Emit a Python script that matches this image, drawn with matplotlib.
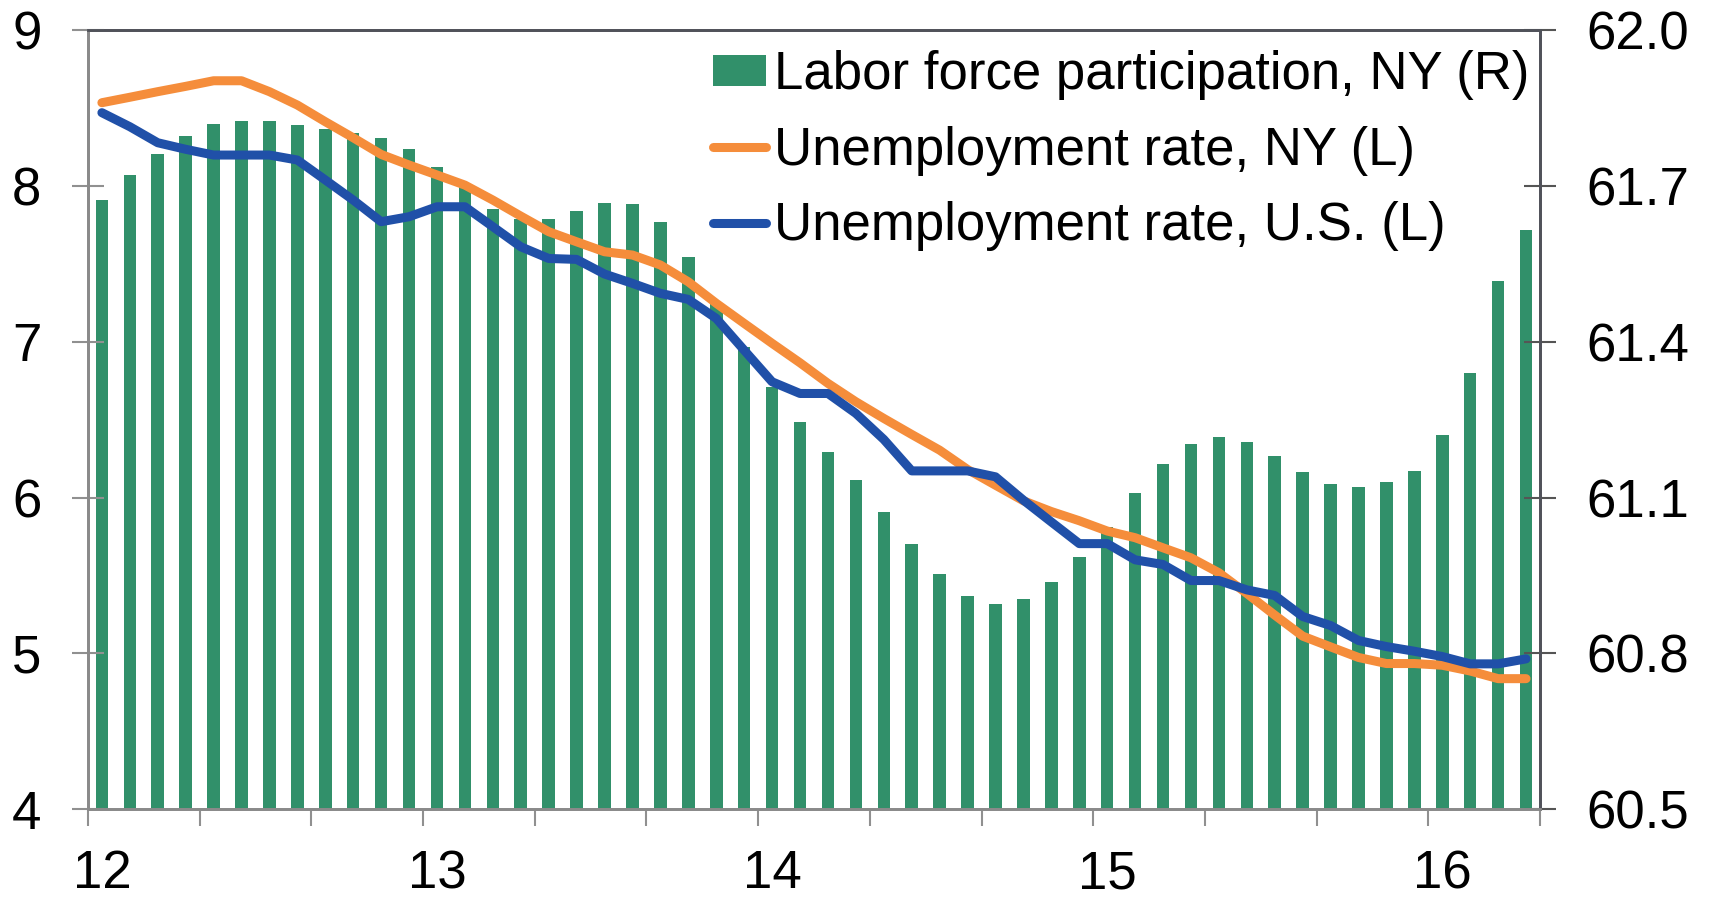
import matplotlib
matplotlib.use('Agg')
import matplotlib.pyplot as plt
from matplotlib.patches import Patch
from matplotlib.lines import Line2D
import numpy as np
import pandas as pd

plt.rcParams['font.family'] = ['Liberation Sans', 'DejaVu Sans']

# monthly data, Jan 2012 - Apr 2016
months = pd.date_range('2012-01-01', '2016-04-01', freq='MS')

lfp_ny = [61.673, 61.721, 61.762, 61.797, 61.819, 61.825, 61.825, 61.817, 61.810, 61.803,
          61.793, 61.772, 61.737, 61.700, 61.656, 61.637, 61.637, 61.652, 61.667, 61.665,
          61.631, 61.564, 61.475, 61.389, 61.312, 61.245, 61.188, 61.133, 61.073, 61.010,
          60.952, 60.910, 60.895, 60.905, 60.938, 60.986, 61.044, 61.108, 61.165, 61.204,
          61.217, 61.206, 61.180, 61.150, 61.127, 61.121, 61.129, 61.151, 61.220, 61.340,
          61.518, 61.616]

unemp_ny = [8.535, 8.570, 8.606, 8.640, 8.676, 8.676, 8.606, 8.520, 8.413, 8.310,
            8.203, 8.135, 8.071, 8.006, 7.910, 7.807, 7.707, 7.642, 7.578, 7.557,
            7.493, 7.385, 7.247, 7.118, 6.990, 6.865, 6.733, 6.615, 6.508, 6.405,
            6.304, 6.180, 6.079, 5.979, 5.910, 5.851, 5.785, 5.742, 5.677, 5.613,
            5.517, 5.384, 5.245, 5.110, 5.041, 4.973, 4.934, 4.934, 4.923, 4.886,
            4.837, 4.837]

unemp_us = [8.471, 8.381, 8.278, 8.236, 8.199, 8.199, 8.199, 8.167, 8.039, 7.910,
            7.771, 7.803, 7.867, 7.867, 7.739, 7.610, 7.535, 7.529, 7.435, 7.375,
            7.311, 7.272, 7.150, 6.946, 6.743, 6.668, 6.668, 6.540, 6.373, 6.171,
            6.171, 6.171, 6.133, 5.983, 5.843, 5.704, 5.704, 5.600, 5.570, 5.467,
            5.467, 5.407, 5.371, 5.236, 5.178, 5.082, 5.043, 5.013, 4.979, 4.932,
            4.932, 4.964]

labels = ['Labor force participation, NY (R)', 'Unemployment rate, NY (L)',
          'Unemployment rate, U.S. (L)']

green = '#31906A'
orange = '#F58D3B'
blue = '#2050A8'

x = np.arange(len(months))

fig = plt.figure(figsize=(17.14, 8.99), dpi=100)
ax = fig.add_axes([0.0513, 0.1001, 0.8472, 0.8662])
ax2 = ax.twinx()

# bars on right scale, behind the lines
ax2.bar(x, lfp_ny, width=0.45, color=green, bottom=0)
ax2.set_ylim(60.5, 62.0)
rticks = np.arange(60.5, 62.01, 0.3)
ax2.set_yticks(rticks)
ax2.set_yticklabels(['%.1f' % v for v in rticks])

ax.plot(x, unemp_ny, color=orange, lw=6.5, solid_capstyle='round', solid_joinstyle='round')
ax.plot(x, unemp_us, color=blue, lw=6.5, solid_capstyle='round', solid_joinstyle='round')
ax.set_ylim(4, 9)
ax.set_yticks(range(4, 10))
ax.set_xlim(-0.5, len(months) - 0.5)

ax.set_zorder(ax2.get_zorder() + 1)
ax.patch.set_visible(False)

# tick marks between months every 4 months, labels on January
ax.set_xticks(np.arange(-0.5, len(months), 4))
ax.set_xticklabels([])
jan = [i for i, m in enumerate(months) if m.month == 1]
ax.set_xticks(jan, minor=True)
ax.set_xticklabels([str(months[i].year)[2:] for i in jan], minor=True)
ax.tick_params(axis='x', which='major', direction='out', length=12, width=1.5, color='#909090')
ax.tick_params(axis='x', which='minor', length=0, pad=29, labelsize=38)
ax.tick_params(axis='y', direction='inout', length=23, width=1.5, color='#909090',
               labelsize=38, pad=22)
ax2.tick_params(axis='y', direction='inout', length=23, width=1.5, color='#555555',
                labelsize=38, pad=22)

for a in (ax, ax2):
    a.spines['left'].set_color('#8a8a8a')
    a.spines['bottom'].set_color('#8a8a8a')
    a.spines['top'].set_color('#50525a')
    a.spines['right'].set_color('#50525a')
    for s in a.spines.values():
        s.set_linewidth(2)

handles = [Patch(facecolor=green, edgecolor='none'),
           Line2D([0], [0], color=orange, lw=6.5, solid_capstyle='round'),
           Line2D([0], [0], color=blue, lw=6.5, solid_capstyle='round')]
ax.legend(handles, labels, loc='upper right', frameon=False, fontsize=38,
          handlelength=1.0, handleheight=0.53, handletextpad=0.15, labelspacing=0.48,
          borderpad=0.2, borderaxespad=0, bbox_to_anchor=(1.0, 0.988))

fig.savefig('out.png', dpi=100)
